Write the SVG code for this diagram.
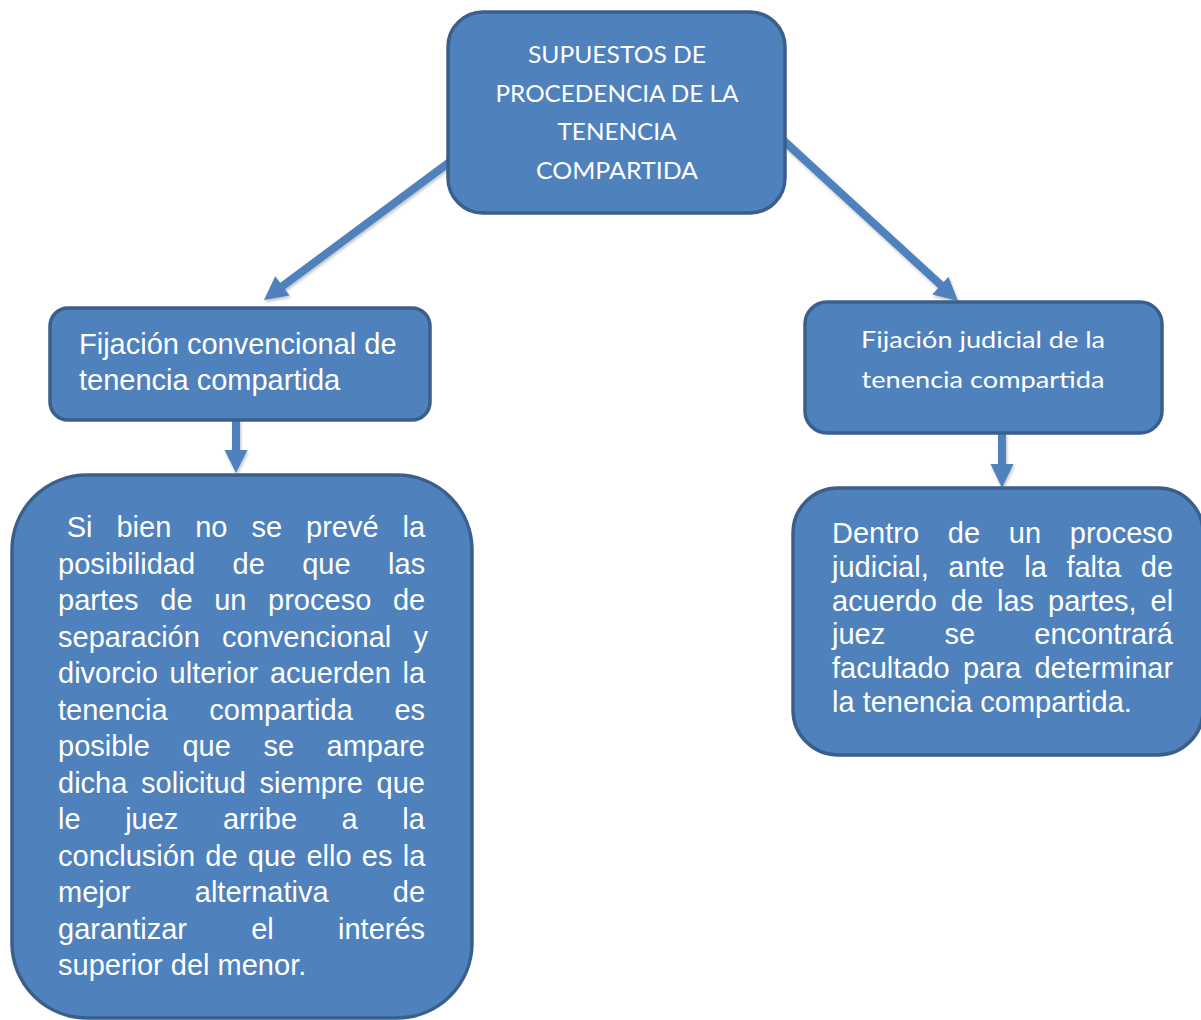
<svg xmlns="http://www.w3.org/2000/svg" width="1201" height="1020" viewBox="0 0 1201 1020">
<style>
.box{fill:#4f81bd;stroke:#3a5f8b;stroke-width:3.5}
.ar{font-family:"Liberation Sans",Arial,sans-serif;font-size:29px;fill:#ffffff}
.cal{font-family:Lato,"Open Sans",sans-serif;fill:#ffffff;text-anchor:middle}
.conn{stroke:#4f81bd;stroke-width:8;fill:none}
.head{fill:#4f81bd}
</style>
<defs>
<filter id="sh" x="-20%" y="-20%" width="140%" height="140%">
<feDropShadow dx="1" dy="2" stdDeviation="1.5" flood-color="#000" flood-opacity="0.25"/>
</filter>
</defs>
<rect width="1201" height="1020" fill="#ffffff"/>
<g id="connectors" filter="url(#sh)">
<line class="conn" x1="451" y1="161" x2="280" y2="288"/>
<polygon class="head" points="264,300 275.2,276.3 289.5,295.5"/>
<line class="conn" x1="783" y1="140" x2="943" y2="287"/>
<polygon class="head" points="958,301 932.3,294.5 948.5,276.8"/>
<line class="conn" x1="236" y1="420" x2="236" y2="453"/>
<polygon class="head" points="224.5,450 247.5,450 236,473"/>
<line class="conn" x1="1002" y1="433" x2="1002" y2="466"/>
<polygon class="head" points="990.5,464 1013.5,464 1002,488"/>
</g>
<g id="node-top">
<rect class="box" x="448" y="12" width="337" height="201" rx="35"/>
<text class="cal" font-size="24"><tspan x="617" y="63" textLength="178" lengthAdjust="spacingAndGlyphs">SUPUESTOS DE</tspan><tspan x="617" y="101.5" textLength="243" lengthAdjust="spacingAndGlyphs">PROCEDENCIA DE LA</tspan><tspan x="617" y="140" textLength="119" lengthAdjust="spacingAndGlyphs">TENENCIA</tspan><tspan x="617" y="178.5" textLength="162" lengthAdjust="spacingAndGlyphs">COMPARTIDA</tspan></text>
</g>
<g id="node-convencional">
<rect class="box" x="50" y="308" width="380" height="112" rx="18"/>
<text class="ar"><tspan x="79" y="354">Fijación convencional de</tspan><tspan x="79" y="390">tenencia compartida</tspan></text>
</g>
<g id="node-judicial">
<rect class="box" x="805" y="302" width="357" height="131" rx="22"/>
<text class="cal" font-size="24"><tspan x="983" y="348" textLength="244" lengthAdjust="spacingAndGlyphs">Fijación judicial de la</tspan><tspan x="983" y="388" textLength="243" lengthAdjust="spacingAndGlyphs">tenencia compartida</tspan></text>
</g>
<g id="node-conv-detail">
<rect class="box" x="12" y="475" width="460" height="543" rx="75"/>
<text class="ar">
<tspan x="66.7" y="537.3" word-spacing="15.9">Si bien no se prevé la</tspan>
<tspan x="58" y="573.8" word-spacing="29.4">posibilidad de que las</tspan>
<tspan x="58" y="610.3" word-spacing="13.6">partes de un proceso de</tspan>
<tspan x="58" y="646.8" word-spacing="14.1">separación convencional y</tspan>
<tspan x="58" y="683.3" word-spacing="3.6">divorcio ulterior acuerden la</tspan>
<tspan x="58" y="719.8" word-spacing="33.6">tenencia compartida es</tspan>
<tspan x="58" y="756.3" word-spacing="24.5">posible que se ampare</tspan>
<tspan x="58" y="792.8" word-spacing="5.7">dicha solicitud siempre que</tspan>
<tspan x="58" y="829.3" word-spacing="36.5">le juez arribe a la</tspan>
<tspan x="58" y="865.8" word-spacing="2.2">conclusión de que ello es la</tspan>
<tspan x="58" y="902.3" word-spacing="56.2">mejor alternativa de</tspan>
<tspan x="58" y="938.8" word-spacing="56.2">garantizar el interés</tspan>
<tspan x="58" y="975.3">superior del menor.</tspan>
</text>
</g>
<g id="node-jud-detail">
<rect class="box" x="793" y="488" width="410" height="267" rx="45"/>
<text class="ar">
<tspan x="832" y="543.3" word-spacing="20.7">Dentro de un proceso</tspan>
<tspan x="832" y="577" word-spacing="11.5">judicial, ante la falta de</tspan>
<tspan x="832" y="610.7" word-spacing="5.9">acuerdo de las partes, el</tspan>
<tspan x="832" y="644.4" word-spacing="51.2">juez se encontrará</tspan>
<tspan x="832" y="678.1" word-spacing="5.3">facultado para determinar</tspan>
<tspan x="832" y="711.8">la tenencia compartida.</tspan>
</text>
</g>
</svg>
